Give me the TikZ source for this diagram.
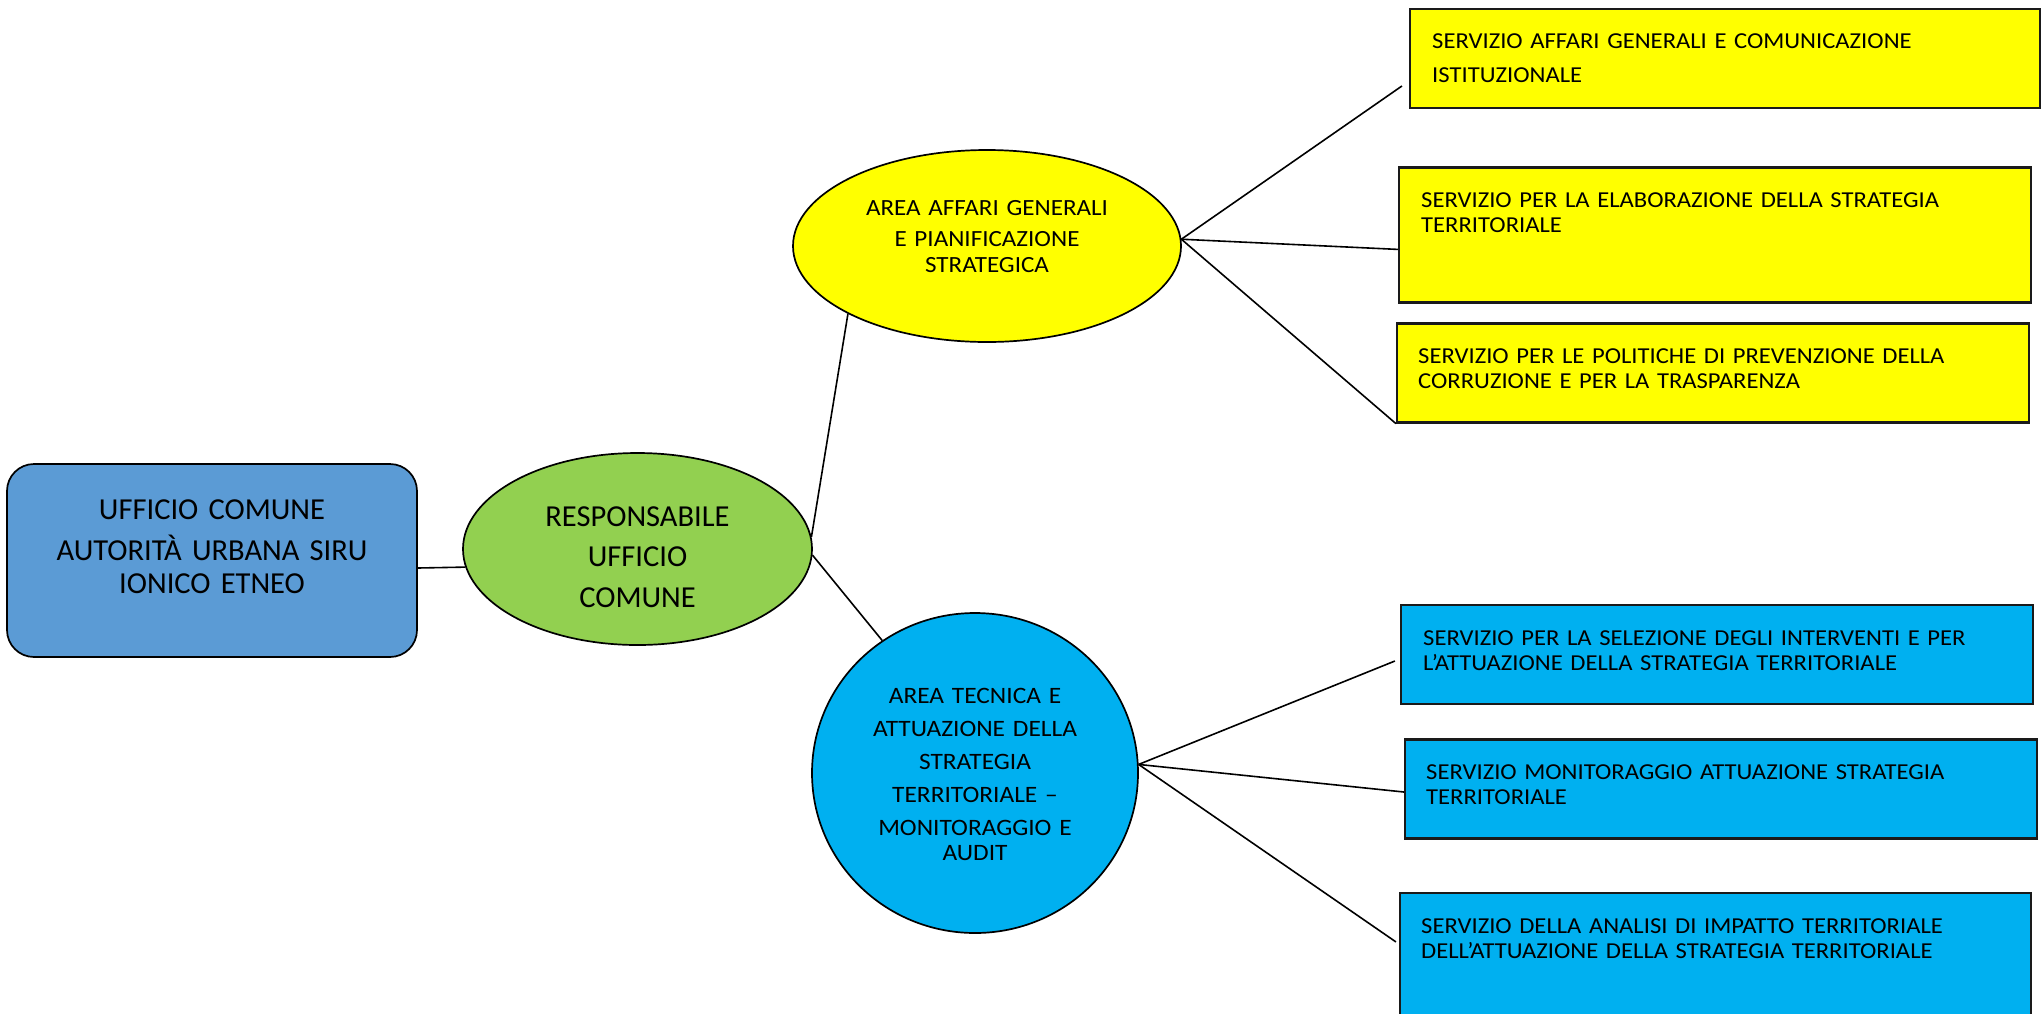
\documentclass[tikz,border=0pt]{standalone}
\usepackage{fontspec}
\setmainfont{Carlito}
\newfontfamily\smallfont{Carlito}[FakeStretch=1.08]
\usetikzlibrary{shapes.geometric,calc}
\definecolor{rootblue}{HTML}{5B9BD5}
\definecolor{respgreen}{HTML}{92D050}
\definecolor{areayellow}{HTML}{FFFF00}
\definecolor{areablue}{HTML}{00B0F0}
\definecolor{boxedge}{HTML}{1A1A1A}
\tikzset{
  shapeline/.style={draw=black,line width=1.7pt,inner sep=0pt},
  rootbox/.style={shapeline,rectangle,rounded corners=27pt,fill=rootblue,minimum width=410pt,minimum height=193pt},
  ovalnode/.style={shapeline,ellipse},
  servbox/.style={draw=boxedge,line width=2.2pt,rectangle,inner sep=0pt,minimum height=99pt},
  bigtext/.style={inner sep=0pt,anchor=base,align=center,font={\fontsize{30.5}{33}\selectfont}},
  midtext/.style={inner sep=0pt,anchor=base,align=center,font={\smallfont\fontsize{23.2}{25.5}\selectfont}},
  boxtext/.style={inner sep=0pt,anchor=base west,align=left,text width=580pt,font={\smallfont\fontsize{22.8}{25.5}\selectfont}},
  link/.style={draw=black,line width=1.6pt}
}
\begin{document}
\begin{tikzpicture}[x=1pt,y=-1pt]
\useasboundingbox (0,0) rectangle (2044,1013);
% main shapes
\node[rootbox] (root) at (212,560.5) {};
\node[ovalnode,fill=respgreen,minimum width=349pt,minimum height=192pt] (resp) at (637.5,549) {};
\node[ovalnode,fill=areayellow,minimum width=388pt,minimum height=192pt] (area1) at (987,246) {};
\node[ovalnode,fill=areablue,minimum width=326pt,minimum height=320pt] (area2) at (975,773) {};
% service boxes
\node[servbox,fill=areayellow,minimum width=630pt] (b1) at (1725,58.5) {};
\node[servbox,fill=areayellow,minimum width=632pt,minimum height=135pt] (b2) at (1715,235) {};
\node[servbox,fill=areayellow,minimum width=632pt] (b3) at (1713,373) {};
\node[servbox,fill=areablue,minimum width=632pt] (b4) at (1717,654.5) {};
\node[servbox,fill=areablue,minimum width=632pt] (b5) at (1721,789) {};
\node[servbox,fill=areablue,minimum width=631pt,minimum height=140pt] (b6) at (1715.5,963) {};
% texts
\node[bigtext,text width=390pt] (roott) at (212,519) {UFFICIO COMUNE\\[8pt]AUTORITÀ URBANA SIRU\\IONICO ETNEO};
\node[bigtext,text width=320pt,font={\fontsize{30.5}{40.5}\selectfont}] (respt) at (637.5,526) {RESPONSABILE\\UFFICIO\\COMUNE};
\node[midtext,text width=360pt] (area1t) at (987,215) {AREA AFFARI GENERALI\\[6pt]E PIANIFICAZIONE\\STRATEGICA};
\node[midtext,text width=300pt,font={\smallfont\fontsize{23.5}{25.5}\selectfont}] (area2t) at (975,703) {AREA TECNICA E\\[7.5pt]ATTUAZIONE DELLA\\[7.5pt]STRATEGIA\\[7.5pt]TERRITORIALE –\\[7.5pt]MONITORAGGIO E\\AUDIT};
\node[boxtext,font={\smallfont\fontsize{22.8}{34}\selectfont}] (b1t) at (1432,48) {SERVIZIO AFFARI GENERALI E COMUNICAZIONE\\ISTITUZIONALE};
\node[boxtext] (b2t) at (1421,207) {SERVIZIO PER LA ELABORAZIONE DELLA STRATEGIA\\TERRITORIALE};
\node[boxtext] (b3t) at (1418,363) {SERVIZIO PER LE POLITICHE DI PREVENZIONE DELLA\\CORRUZIONE E PER LA TRASPARENZA};
\node[boxtext] (b4t) at (1423,645) {SERVIZIO PER LA SELEZIONE DEGLI INTERVENTI E PER\\L’ATTUAZIONE DELLA STRATEGIA TERRITORIALE};
\node[boxtext] (b5t) at (1426,779) {SERVIZIO MONITORAGGIO ATTUAZIONE STRATEGIA\\TERRITORIALE};
\node[boxtext] (b6t) at (1421,933) {SERVIZIO DELLA ANALISI DI IMPATTO TERRITORIALE\\DELL’ATTUAZIONE DELLA STRATEGIA TERRITORIALE};
% connectors
\draw[link] ([yshift=-7.5pt]root.east) -- (resp.186);
\draw[link] (resp.4.6) -- (area1.206);
\draw[link] (resp.358.7) -- (area2.125.3);
\draw[link] (area1.2.7) -- ([xshift=-7pt,yshift=-27.5pt]b1.west);
\draw[link] (area1.2.7) -- ([yshift=-83pt]b2.north west);
\draw[link] (area1.2.7) -- (b3.south west);
\draw[link] (area2.3.5) -- ([xshift=-5pt,yshift=-6.5pt]b4.west);
\draw[link] (area2.3.5) -- ([yshift=-3pt]b5.west);
\draw[link] (area2.3.5) -- ([xshift=-3pt,yshift=-50pt]b6.north west);
\end{tikzpicture}
\end{document}
